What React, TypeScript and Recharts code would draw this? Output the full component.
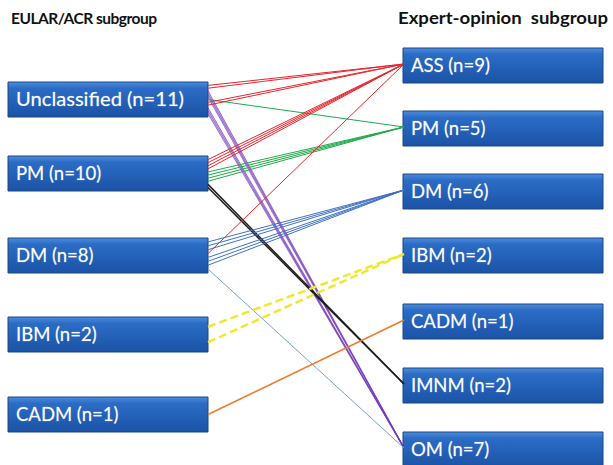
import { ComposedChart, Line, XAxis, YAxis, ReferenceArea } from "recharts";

// left (EULAR/ACR) and right (expert-opinion) groups with patient counts
const leftGroups = ["Unclassified", "PM", "DM", "IBM", "CADM"];
const leftCounts = [11, 10, 8, 2, 1];
const rightGroups = ["ASS", "PM", "DM", "IBM", "CADM", "IMNM", "OM"];
const rightCounts = [9, 5, 6, 2, 1, 2, 7];

// reassignment flows, in the order they leave each left box
const flowFrom = ["Unclassified", "Unclassified", "Unclassified", "Unclassified", "Unclassified",
  "PM", "PM", "PM", "DM", "DM", "DM", "DM", "IBM", "CADM"];
const flowTo = ["ASS", "OM", "PM", "ASS", "OM",
  "ASS", "PM", "IMNM", "DM", "ASS", "DM", "OM", "IBM", "CADM"];
const flowCount = [2, 3, 1, 2, 3, 4, 4, 2, 3, 1, 3, 1, 2, 1];

// layout (chart units == pixels)
const W = 613;
const H = 465;
const LEFT_X = [8, 208];
const RIGHT_X = [403, 603];
const LEFT_TOP = [82, 156, 238, 317, 397];
const RIGHT_TOP = [48, 111, 174, 238, 304, 368, 432];
const BOX_H = 35;

const lineStyle: Record<string, { stroke: string; width: number; dash?: string; opacity?: number }> = {
  ASS: { stroke: "#e8252c", width: 1 },
  PM: { stroke: "#1eaa4b", width: 1 },
  DM: { stroke: "#3f72c4", width: 1 },
  IBM: { stroke: "#f0e830", width: 2.5, dash: "8 4" },
  CADM: { stroke: "#ef7a2c", width: 1.5 },
  IMNM: { stroke: "#1e1e1e", width: 1.5 },
  OM: { stroke: "#7438b8", width: 1.1, opacity: 0.75 },
};
const thinToOM = { stroke: "#6f9fd8", width: 1 };

function buildLines() {
  const used = leftGroups.map(() => 0);
  const out: { key: string; data: { x: number; y: number }[]; style: any }[] = [];
  flowFrom.forEach((from, f) => {
    const li = leftGroups.indexOf(from);
    const ri = rightGroups.indexOf(flowTo[f]);
    for (let k = 0; k < flowCount[f]; k++) {
      const n = leftCounts[li];
      const slot = used[li]++;
      const yl = LEFT_TOP[li] + 2 + ((BOX_H - 4) * (slot + 0.5)) / n;
      const yr = RIGHT_TOP[ri] + 16;
      const style = from === "DM" && flowTo[f] === "OM" ? thinToOM : lineStyle[flowTo[f]];
      out.push({
        key: `${f}-${k}`,
        data: [
          { x: LEFT_X[1], y: yl },
          { x: RIGHT_X[0] + 1, y: yr },
        ],
        style,
      });
    }
  });
  return out;
}

const boxLabel = (text: string) => (props: any) => {
  const vb = props.viewBox;
  return (
    <text
      x={vb.x + 8}
      y={vb.y + vb.height / 2 + 6.5}
      fill="#ffffff"
      fontFamily="Lato, 'Open Sans', sans-serif"
      fontSize={18.5}
      stroke="rgba(255,255,255,0.35)"
      strokeWidth={0.6}
      textLength={text.length > 14 ? 168 : undefined}
      lengthAdjust="spacingAndGlyphs"
    >
      {text}
    </text>
  );
};

const titleFont = {
  fontFamily: "Lato, 'Open Sans', sans-serif",
  fontWeight: 700,
  fill: "#111",
};

export default function App() {
  const lines = buildLines();
  return (
    <div style={{ position: "absolute", left: 0, top: 0, width: W, height: H, background: "#fff" }}>
      <svg width={W} height={40} style={{ position: "absolute", left: 0, top: 0 }}>
        <text x={11} y={24} {...titleFont} fontSize={15.5} textLength={146} lengthAdjust="spacing">
          EULAR/ACR subgroup
        </text>
        <text x={398} y={24} {...titleFont} fontSize={17} textLength={210} lengthAdjust="spacingAndGlyphs" xmlSpace="preserve">
          Expert-opinion  subgroup
        </text>
      </svg>
      <ComposedChart width={W} height={H} margin={{ top: 0, right: 0, bottom: 0, left: 0 }}>
        <defs>
          <linearGradient id="boxFill" x1="0" y1="0" x2="0" y2="1">
            <stop offset="0%" stopColor="#4c8cdc" />
            <stop offset="18%" stopColor="#2c6cc6" />
            <stop offset="100%" stopColor="#1b53a6" />
          </linearGradient>
        </defs>
        <XAxis type="number" dataKey="x" domain={[0, W]} hide allowDataOverflow />
        <YAxis type="number" dataKey="y" domain={[0, H]} reversed hide allowDataOverflow />
        {leftGroups.map((g, i) => (
          <ReferenceArea
            key={`l-${g}`}
            x1={LEFT_X[0]}
            x2={LEFT_X[1]}
            y1={LEFT_TOP[i]}
            y2={LEFT_TOP[i] + BOX_H}
            fill="url(#boxFill)"
            fillOpacity={1}
            stroke="#1a4680"
            strokeWidth={1}
            ifOverflow="visible"
            label={boxLabel(`${g} (n=${leftCounts[i]})`)}
          />
        ))}
        {rightGroups.map((g, i) => (
          <ReferenceArea
            key={`r-${g}`}
            x1={RIGHT_X[0]}
            x2={RIGHT_X[1]}
            y1={RIGHT_TOP[i]}
            y2={RIGHT_TOP[i] + BOX_H}
            fill="url(#boxFill)"
            fillOpacity={1}
            stroke="#1a4680"
            strokeWidth={1}
            ifOverflow="visible"
            label={boxLabel(`${g} (n=${rightCounts[i]})`)}
          />
        ))}
        {lines.map((l) => (
          <Line
            key={l.key}
            data={l.data}
            dataKey="y"
            type="linear"
            stroke={l.style.stroke}
            strokeWidth={l.style.width}
            strokeDasharray={l.style.dash}
            strokeOpacity={l.style.opacity ?? 1}
            dot={false}
            activeDot={false}
            legendType="none"
            isAnimationActive={false}
          />
        ))}
      </ComposedChart>
    </div>
  );
}
